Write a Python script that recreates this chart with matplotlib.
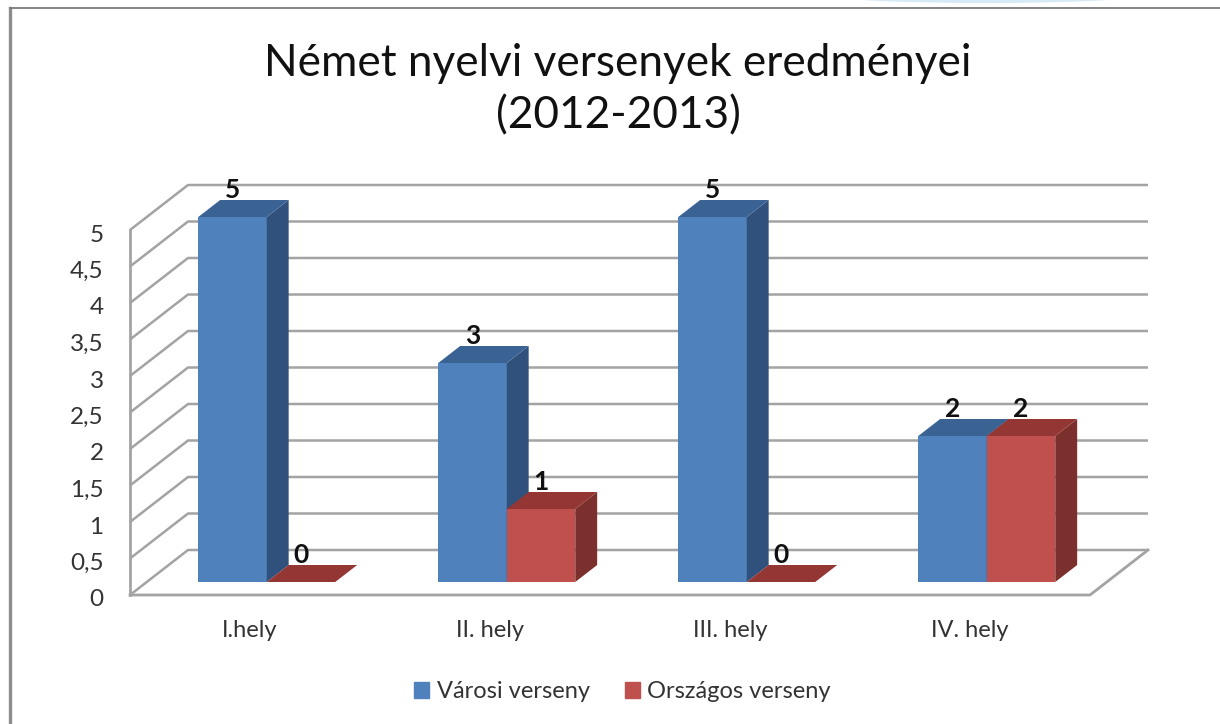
import matplotlib
matplotlib.use("Agg")
import matplotlib.pyplot as plt
from matplotlib.patches import Ellipse, Rectangle
from matplotlib.transforms import ScaledTranslation

plt.rcParams['font.family'] = ['Lato', 'DejaVu Sans']

# data
title = "Német nyelvi versenyek eredményei\n(2012-2013)"
categories = ["I.hely", "II. hely", "III. hely", "IV. hely"]
series_names = ["Városi verseny", "Országos verseny"]
varosi = [5, 3, 5, 2]
orszagos = [0, 1, 0, 2]
y_ticks = [0, 0.5, 1, 1.5, 2, 2.5, 3, 3.5, 4, 4.5, 5]

# colours: front, side, top
blue = ["#4F81BD", "#30517B", "#3A6394"]
red = ["#C0504D", "#7B302E", "#943634"]
grid_col = "#A3A3A3"

W, H = 1220, 724
fig = plt.figure(figsize=(W / 100, H / 100), dpi=100, facecolor="white")
ax = fig.add_axes([130 / W, (H - 595) / H, 960 / W, 365 / H])
ax.set_xlim(-0.5, 3.5)
ax.set_ylim(0, 5)
ax.patch.set_alpha(0)
for s in ax.spines.values():
    s.set_visible(False)

# fake 3d: depth 0 is front of the floor, depth 1 the back wall
DX = 58 / 240
DY = 45 / 73
def pt(x, y, d):
    return x + d * DX, y + d * DY

x0, x1 = -0.5, 3.5

# walls and floor
for v in y_ticks:
    a = pt(x0, v, 0)
    b = pt(x0, v, 1)
    c = pt(x1, v, 1)
    ax.plot([a[0], b[0], c[0]], [a[1], b[1], c[1]], color=grid_col, lw=1.8,
            zorder=1, clip_on=False, solid_capstyle="butt")
a = pt(x0, 0, 0)
b = pt(x1, 0, 0)
c = pt(x1, 0, 1)
ax.plot([a[0], b[0], c[0]], [a[1], b[1], c[1]], color=grid_col, lw=2, zorder=1, clip_on=False)
ax.plot([x0, x0], [0, 5], color=grid_col, lw=2, zorder=1, clip_on=False)

# bars
bw = 68.5 / 240
d0, d1 = 13 / 45, 30 / 45
z = 2
def bar3d(xc, val, cols):
    global z
    xl, yb = pt(xc, 0, d0)
    xr = xl + bw
    ytop = yb + val
    back = (d1 - d0)
    ax.bar(xl + bw / 2, val, bw, bottom=yb, color=cols[0], zorder=z, clip_on=False, linewidth=0)
    # side
    ax.fill([xr, xr + back * DX, xr + back * DX, xr],
            [yb, yb + back * DY, ytop + back * DY, ytop],
            color=cols[1], lw=0, zorder=z + 0.1, clip_on=False)
    # top
    ax.fill([xl, xr, xr + back * DX, xl + back * DX],
            [ytop, ytop, ytop + back * DY, ytop + back * DY],
            color=cols[2], lw=0, zorder=z + 0.1, clip_on=False)
    # value label
    ax.annotate(str(val), (xl + bw / 2, ytop), xytext=(0, 19.5), textcoords="offset points",
                ha="center", va="center", fontsize=19, fontweight="bold", color="#111111",
                zorder=50, annotation_clip=False)
    z += 1

for i in range(len(categories)):
    bar3d(i - bw, varosi[i], blue)
    bar3d(i, orszagos[i], red)

# axis labels
ax.set_yticks(y_ticks)
ax.set_yticklabels([str(v).replace(".", ",") for v in y_ticks], fontsize=17.5, color="#333333")
ax.set_xticks(range(len(categories)))
ax.set_xticklabels(categories, fontsize=17, color="#333333")
ax.tick_params(axis="y", length=0, pad=19)
ax.tick_params(axis="x", length=0, pad=18)
for lbl in ax.get_yticklabels():
    lbl.set_transform(lbl.get_transform() + ScaledTranslation(0, -3 / 100, fig.dpi_scale_trans))

handles = [Rectangle((0, 0), 1, 1, color=blue[0]), Rectangle((0, 0), 1, 1, color=red[0])]
fig.legend(handles, series_names, loc="center", bbox_to_anchor=(622.5 / W, 1 - 692 / H), ncol=2,
           frameon=False, fontsize=17, handlelength=0.64, handleheight=0.64,
           columnspacing=1.5, handletextpad=0.3, labelcolor="#333333")

fig.text(618 / W, 1 - 90 / H, title, ha="center", va="center", fontsize=31.8,
         color="#111111", linespacing=1.35)

# frame of the screenshot
fig.add_artist(plt.Line2D([10 / W, 10 / W], [0, 1 - 8 / H], color="#8C8C8C", lw=2.4))
fig.add_artist(plt.Line2D([10 / W, 1], [1 - 7.5 / H, 1 - 7.5 / H], color="#7A7A7A", lw=1.3))
fig.add_artist(Ellipse((985 / W, 1 + 4 / H), 300 / W, 14 / H, color="#D5EAF6", lw=0,
                       transform=fig.transFigure))

fig.savefig("out.png", dpi=100)
